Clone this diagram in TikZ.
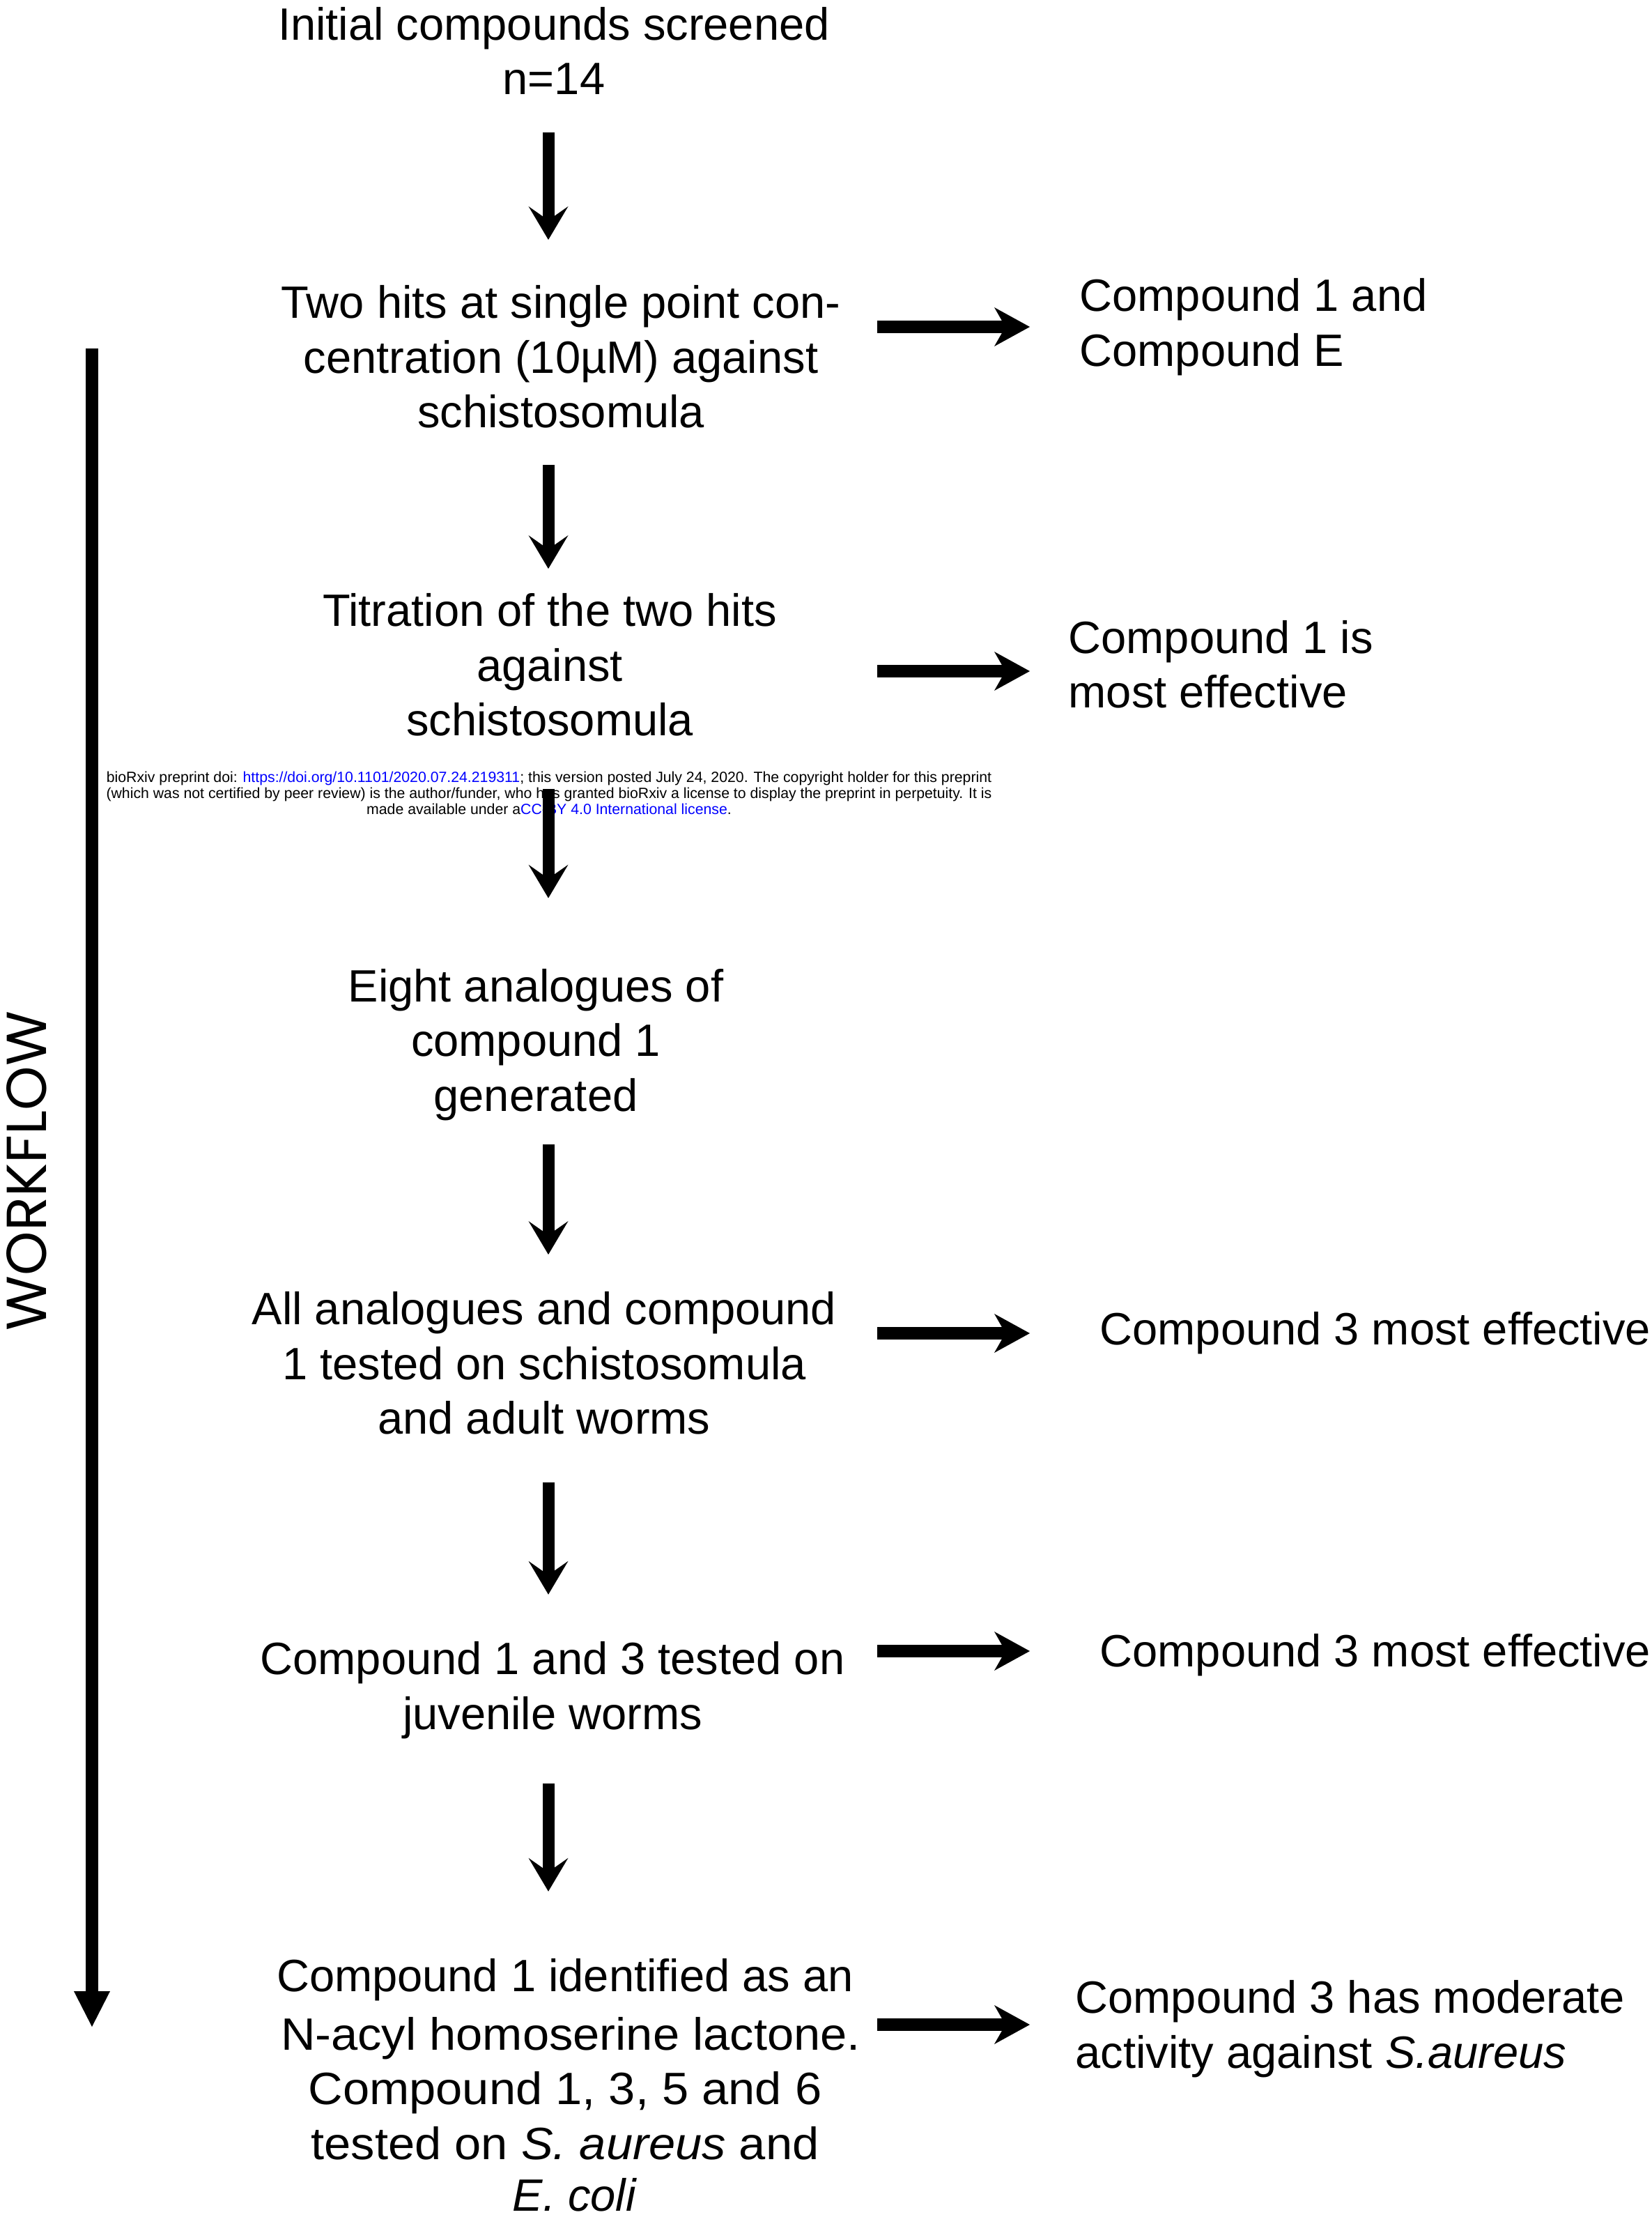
\documentclass[tikz,border=0pt]{standalone}
\usepackage{fontspec}
\setmainfont{Liberation Sans}
\newfontfamily\wffont{Poppins}
\usepackage{tikz}
\usetikzlibrary{arrows.meta}
\definecolor{linkblue}{RGB}{0,0,255}

\begin{document}
\begin{tikzpicture}[
        stage/.style={align=center, inner sep=0pt, font=\fontsize{18.5}{22.3}\selectfont},
        result/.style={align=left, anchor=west, inner sep=0pt, font=\fontsize{18.5}{22.3}\selectfont},
        downarrow/.style={line width=.17cm, -{Stealth[length=.48cm,width=.57cm,inset=.2cm,line width=0pt]}},
        sidearrow/.style={line width=.18cm, -{Stealth[length=.51cm,width=.56cm,inset=.16cm,line width=0pt]}},
        flowarrow/.style={line width=.18cm, -{Triangle[length=.51cm,width=.52cm,line width=0pt]}}
    ]
        \useasboundingbox (0,0) rectangle (23.71,-31.81);
        \coordinate (col) at (7.87,0);
        \coordinate (side) at (12.59,0);

        % workflow steps
        \node[stage] (screen) at (7.95,-0.73) {Initial compounds screened\\n=14};
        \node[stage] (hits) at (8.05,-5.12) {Two hits at single point con-\\centration (10µM) against\\schistosomula};
        \node[stage] (titr) at (7.89,-9.54) {Titration of the two hits\\against\\schistosomula};
        \node[align=center, inner sep=0pt, font=\fontsize{6.05}{6.5}\selectfont] (note) at (7.88,-11.38)
            {bioRxiv preprint doi: \textcolor{linkblue}{https://doi.org/10.1101/2020.07.24.219311}; this version posted July 24, 2020. The copyright holder for this preprint\\
             (which was not certified by peer review) is the author/funder, who has granted bioRxiv a license to display the preprint in perpetuity. It is\\
             made available under a\textcolor{linkblue}{CC-BY 4.0 International license}.};
        \node[stage] (analog) at (7.69,-14.99) {Eight analogues of\\compound 1\\generated};
        \node[stage] (tested) at (7.81,-19.56) {All analogues and compound\\1 tested on schistosomula\\and adult worms};
        \node[stage] (juven) at (7.93,-24.25) {Compound 1 and 3 tested on\\juvenile worms};
        \node[stage] (lacto) at (8.11,-29.92) {Compound 1 identified as an\\[1.5pt]
            \hspace*{.16cm}\scalebox{1.056}[1]{N-acyl homoserine lactone.}\\
            \scalebox{1.056}[1]{Compound 1, 3, 5 and 6}\\
            \scalebox{1.056}[1]{tested on \textit{S. aureus} and}\\[-1pt]
            \hspace*{.28cm}\textit{E. coli}};

        % outcomes
        \node[result] (outA) at (15.49,-4.69) {Compound 1 and\\Compound E};
        \node[result] (outB) at (15.33,-9.53) {Compound 1 is\\most effective};
        \node[result] (outC) at (15.78,-19.13) {Compound 3 most effective};
        \node[result] (outD) at (15.78,-23.75) {Compound 3 most effective};
        \node[result] (outE) at (15.43,-29.11) {Compound 3 has moderate\\activity against \textit{S.aureus}};

        \draw[downarrow, shorten <=.54cm, shorten >=.65cm] (screen.south -| col) -- (hits.north -| col);
        \draw[downarrow, shorten <=.52cm, shorten >=.35cm] (hits.south -| col) -- (titr.north -| col);
        \draw[downarrow, shorten <=.75cm, shorten >=1.01cm] (titr.south -| col) -- (analog.north -| col);
        \draw[downarrow, shorten <=.34cm, shorten >=.53cm] (analog.south -| col) -- (tested.north -| col);
        \draw[downarrow, shorten <=.68cm, shorten >=.67cm] (tested.south -| col) -- (juven.north -| col);
        \draw[downarrow, shorten <=.64cm, shorten >=.96cm] (juven.south -| col) -- (lacto.north -| col);

        \draw[sidearrow, shorten >=.71cm] (side |- outA.west) -- (outA.west);
        \draw[sidearrow, shorten >=.55cm] ([yshift=-.1cm]side |- outB.west) -- ([yshift=-.1cm]outB.west);
        \draw[sidearrow, shorten >=1cm] (side |- outC.west) -- (outC.west);
        \draw[sidearrow, shorten >=1cm] ([yshift=.06cm]side |- outD.west) -- ([yshift=.06cm]outD.west);
        \draw[sidearrow, shorten >=.65cm] ([yshift=.06cm]side |- outE.west) -- ([yshift=.06cm]outE.west);

        % workflow bar
        \node[rotate=90, inner sep=0pt, font=\wffont\fontsize{23}{27}\selectfont] (wf) at (.385,-16.8) {WORKFLOW};
        \coordinate (flowtop) at (1.32,-5);
        \coordinate (flowend) at (1.32,-29.08);
        \draw[flowarrow] (flowtop) -- (flowend);
\end{tikzpicture}
\end{document}
